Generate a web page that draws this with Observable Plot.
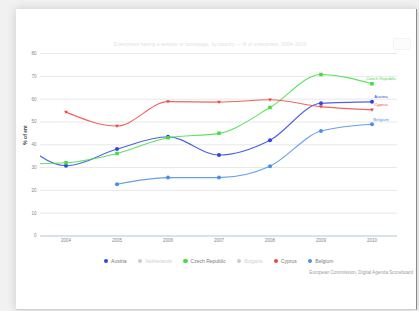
<!DOCTYPE html>
<html><head><meta charset="utf-8">
<script src="https://cdn.jsdelivr.net/npm/d3@7"></script>
<script src="https://cdn.jsdelivr.net/npm/@observablehq/plot@0.6"></script>
<style>
html,body{margin:0;padding:0;background:#f1f1f1;font-family:"Liberation Sans",Arial,sans-serif;}
#wrap{position:relative;width:419px;height:311px;overflow:hidden;}
#card{position:absolute;left:16px;top:9px;width:400px;height:300px;background:#fff;box-shadow:0 0 9px rgba(0,0,0,0.16);border-right:1px solid #8a8a8a;border-bottom:1px solid #d0d0d0;}
#chart{position:absolute;left:0;top:0;}
#title{position:absolute;left:40px;width:340px;top:41px;text-align:center;font-size:5px;color:#e2e2e2;white-space:nowrap;}
#btn{position:absolute;left:393px;top:38px;width:16px;height:10px;border:1px solid #f4f4f4;border-radius:2px;background:#fcfcfc;}
#legend{position:absolute;left:40px;width:357px;top:258px;display:flex;justify-content:center;gap:11px;font-size:5px;color:#7a7a7a;}
#legend .it{display:flex;align-items:center;gap:3px;white-space:nowrap;}
#legend .mk{width:4.5px;height:4.5px;border-radius:50%;}
#caption{position:absolute;right:6px;top:270px;font-size:4.6px;color:#a0a0a0;white-space:nowrap;}
</style></head>
<body>
<div id="wrap">
  <div id="card"></div>
  <div id="title"></div>
  <div id="btn"></div>
  <div id="chart"></div>
  <div id="legend"></div>
  <div id="caption"></div>
</div>
<script>
const years = [2003, 2004, 2005, 2006, 2007, 2008, 2009, 2010];
const tickYears = [2004, 2005, 2006, 2007, 2008, 2009, 2010];
const yTicks = [0, 10, 20, 30, 40, 50, 60, 70, 80];
const austria = [44, 30.8, 38.1, 43.5, 35.5, 42, 58.2, 58.8];
const czech = [31.5, 32.1, 36.2, 43.1, 45, 56.3, 70.8, 66.7];
const cyprus = [null, 54.3, 48.2, 58.9, 58.7, 59.7, 56.7, 55.3];
const belgium = [null, null, 22.7, 25.6, 25.6, 30.6, 46, 49];
const legendNames = ["Austria", "Netherlands", "Czech Republic", "Bulgaria", "Cyprus", "Belgium"];
const legendColors = ["#3045e0", "#cccccc", "#44dd44", "#cccccc", "#ee4646", "#4a8fe8"];
const shownSeries = ["Austria", "Czech Republic", "Cyprus", "Belgium"];
const shownColors = ["#3045e0", "#44dd44", "#ee4646", "#4a8fe8"];
const titleText = "Enterprises having a website or homepage, by country — % of enterprises, 2004–2010";
const yLabel = "% of ent";
const captionText = "European Commission, Digital Agenda Scoreboard";

const triangleDown = {
  draw(ctx, size) {
    const s = Math.sqrt(size / 1.3);
    ctx.moveTo(-s * 0.6, -s * 0.45);
    ctx.lineTo(s * 0.6, -s * 0.45);
    ctx.lineTo(0, s * 0.6);
    ctx.closePath();
  }
};

const seriesValues = {"Austria": austria, "Czech Republic": czech, "Cyprus": cyprus, "Belgium": belgium};
const rows = [];
for (const name of shownSeries) {
  seriesValues[name].forEach((v, i) => { if (v != null) rows.push({series: name, year: years[i], value: v}); });
}
const lastRows = shownSeries.map(name => rows.filter(r => r.series === name).at(-1));

const chart = Plot.plot({
  width: 419,
  height: 250,
  marginLeft: 40,
  marginRight: 22,
  marginTop: 53,
  marginBottom: 14.5,
  style: {fontFamily: "Liberation Sans, Arial, sans-serif", fontSize: "4.6px", background: "transparent", overflow: "visible"},
  x: {type: "linear", domain: [2003.5, 2010.5]},
  y: {domain: [0, 80]},
  color: {domain: shownSeries, range: shownColors},
  symbol: {domain: shownSeries, range: ["circle", "square", triangleDown, "circle"]},
  marks: [
    Plot.gridY(yTicks, {stroke: "#e8e8e8", strokeOpacity: 1}),
    Plot.ruleY([0], {stroke: "#c0d0e0"}),
    Plot.axisX(tickYears, {tickSize: 0, tickPadding: 3, tickFormat: d => String(d), fill: "#888", label: null}),
    Plot.axisY(yTicks, {tickSize: 0, tickPadding: 4, fill: "#888", label: null}),
    Plot.text([yLabel], {text: d => d, frameAnchor: "left", rotate: -90, dx: -15, fontWeight: "bold", fontSize: 5, fill: "#444"}),
    Plot.line(rows, {x: "year", y: "value", z: "series", stroke: "series", curve: "monotone-x", strokeWidth: 1.1, strokeOpacity: 0.85, clip: true}),
    Plot.dot(rows, {x: "year", y: "value", fill: "series", symbol: "series", r: 2, clip: true}),
    Plot.text(lastRows, {x: "year", y: "value", text: "series", fill: "series", dx: 9, dy: -5, fontSize: 4.3})
  ]
});
document.getElementById("chart").appendChild(chart);
document.getElementById("title").textContent = titleText;
document.getElementById("caption").textContent = captionText;
const lg = document.getElementById("legend");
legendNames.forEach((n, i) => {
  const it = document.createElement("div"); it.className = "it";
  const mk = document.createElement("div"); mk.className = "mk"; mk.style.background = legendColors[i];
  const tx = document.createElement("span"); tx.textContent = n;
  if (legendColors[i] === "#cccccc") tx.style.color = "#d2d2d2";
  it.appendChild(mk); it.appendChild(tx); lg.appendChild(it);
});
</script>
</body></html>
